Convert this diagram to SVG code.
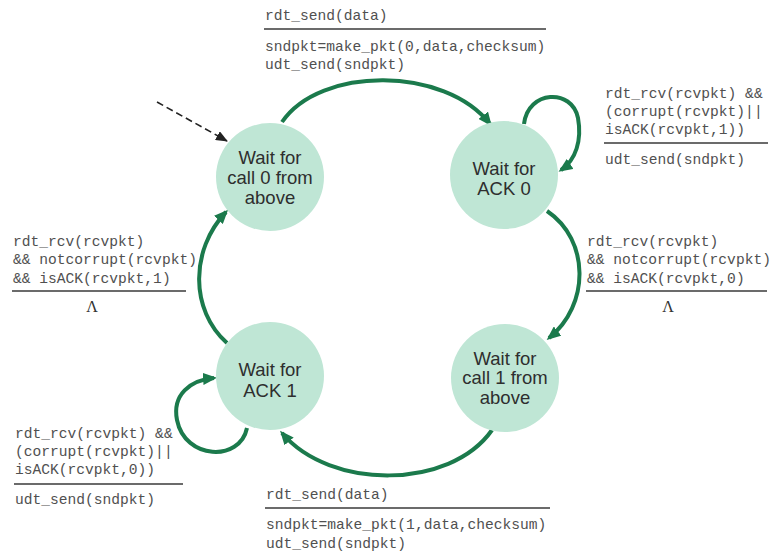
<svg xmlns="http://www.w3.org/2000/svg" width="782" height="560" viewBox="0 0 782 560">
<defs>
<style>
.node{fill:#bfe6d5;}
.nt{font-family:"Liberation Sans","DejaVu Sans",sans-serif;font-size:18.5px;fill:#2e2e2e;text-anchor:middle;}
.mono{font-family:"Liberation Mono","DejaVu Sans Mono",monospace;font-size:14.6px;fill:#505050;}
.lam{font-family:"Liberation Serif","DejaVu Serif",serif;font-size:16px;fill:#333;text-anchor:middle;}
.sep{stroke:#3a3a3a;stroke-width:1.6;}
.arc{fill:none;stroke:#1b7a4c;stroke-width:4;marker-end:url(#ah);}
.init{fill:none;stroke:#222;stroke-width:1.6;stroke-dasharray:7,4;marker-end:url(#ahb);}
</style>
<marker id="ah" viewBox="0 0 14 12" refX="11" refY="6" markerWidth="14" markerHeight="12" markerUnits="userSpaceOnUse" orient="auto">
<path d="M0,0 L14,6 L0,12 z" fill="#1b7a4c"/>
</marker>
<marker id="ahb" viewBox="0 0 12 10" refX="11" refY="5" markerWidth="12" markerHeight="10" markerUnits="userSpaceOnUse" orient="auto">
<path d="M0,0 L12,5 L0,10 z" fill="#222"/>
</marker>
</defs>
<rect width="782" height="560" fill="#ffffff"/>

<g id="connectors">
<path class="init" d="M157,102 L227,141"/>
<path class="arc" d="M282,122 C320,66 445,66 490,124"/>
<path class="arc" d="M524,124 C528,90 572,88 578,118 C582,140 576,160 561,170"/>
<path class="arc" d="M547,211 C590,240 590,305 549,338"/>
<path class="arc" d="M492,430 C450,490 330,490 282,433"/>
<path class="arc" d="M247,428 C240,462 185,460 177,420 C172,395 190,380 214,378"/>
<path class="arc" d="M227,343 C190,310 190,250 226,212"/>
</g>

<g id="wait-call0">
<circle class="node" cx="270" cy="177" r="54"/>
<text class="nt" x="270" y="164">Wait for</text>
<text class="nt" x="270" y="184">call 0 from</text>
<text class="nt" x="270" y="204">above</text>
</g>
<g id="wait-ack0">
<circle class="node" cx="504" cy="175" r="54"/>
<text class="nt" x="504" y="175">Wait for</text>
<text class="nt" x="504" y="195">ACK 0</text>
</g>
<g id="wait-ack1">
<circle class="node" cx="270" cy="376" r="54"/>
<text class="nt" x="270" y="376">Wait for</text>
<text class="nt" x="270" y="397">ACK 1</text>
</g>
<g id="wait-call1">
<circle class="node" cx="505" cy="378" r="54"/>
<text class="nt" x="505" y="365">Wait for</text>
<text class="nt" x="505" y="384">call 1 from</text>
<text class="nt" x="505" y="404">above</text>
</g>

<g id="label-top">
<text class="mono" x="265" y="20">rdt_send(data)</text>
<line class="sep" x1="264" y1="29" x2="546" y2="29"/>
<text class="mono" x="265" y="51">sndpkt=make_pkt(0,data,checksum)</text>
<text class="mono" x="265" y="69">udt_send(sndpkt)</text>
</g>
<g id="label-ack0-loop">
<text class="mono" x="605" y="98">rdt_rcv(rcvpkt) &amp;&amp;</text>
<text class="mono" x="605" y="116">(corrupt(rcvpkt)||</text>
<text class="mono" x="605" y="134">isACK(rcvpkt,1))</text>
<line class="sep" x1="604" y1="143" x2="768" y2="143"/>
<text class="mono" x="605" y="164">udt_send(sndpkt)</text>
</g>
<g id="label-right">
<text class="mono" x="587" y="246">rdt_rcv(rcvpkt)</text>
<text class="mono" x="587" y="264">&amp;&amp; notcorrupt(rcvpkt)</text>
<text class="mono" x="587" y="283">&amp;&amp; isACK(rcvpkt,0)</text>
<line class="sep" x1="586" y1="291" x2="767" y2="291"/>
<text class="lam" x="668" y="312">Λ</text>
</g>
<g id="label-left">
<text class="mono" x="13" y="246">rdt_rcv(rcvpkt)</text>
<text class="mono" x="13" y="264">&amp;&amp; notcorrupt(rcvpkt)</text>
<text class="mono" x="13" y="283">&amp;&amp; isACK(rcvpkt,1)</text>
<line class="sep" x1="12" y1="291" x2="186" y2="291"/>
<text class="lam" x="92" y="312">Λ</text>
</g>
<g id="label-ack1-loop">
<text class="mono" x="15" y="438">rdt_rcv(rcvpkt) &amp;&amp;</text>
<text class="mono" x="15" y="456">(corrupt(rcvpkt)||</text>
<text class="mono" x="15" y="474">isACK(rcvpkt,0))</text>
<line class="sep" x1="14" y1="484" x2="183" y2="484"/>
<text class="mono" x="15" y="504">udt_send(sndpkt)</text>
</g>
<g id="label-bottom">
<text class="mono" x="266" y="499">rdt_send(data)</text>
<line class="sep" x1="265" y1="508" x2="550" y2="508"/>
<text class="mono" x="266" y="529">sndpkt=make_pkt(1,data,checksum)</text>
<text class="mono" x="266" y="548">udt_send(sndpkt)</text>
</g>
</svg>
